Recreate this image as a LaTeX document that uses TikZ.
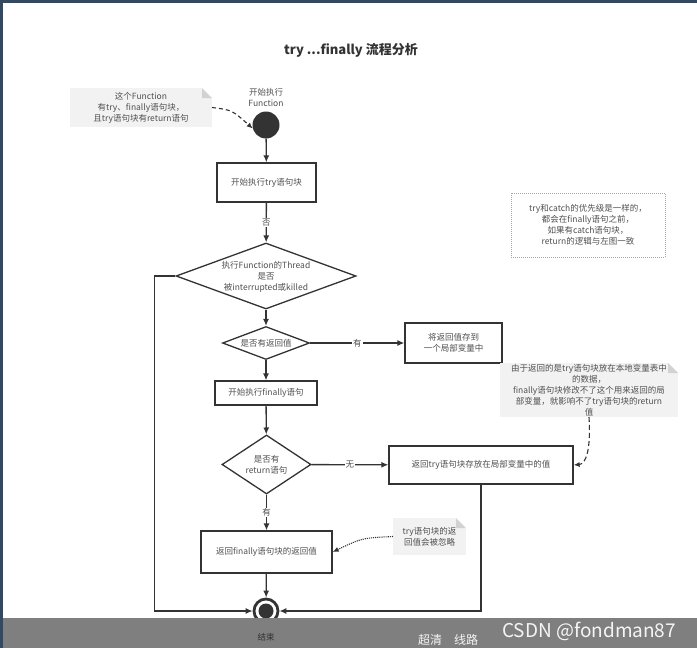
\documentclass[tikz,border=0pt]{standalone}
\usepackage{fontspec}
\setmainfont{Noto Sans CJK SC}
\newfontfamily\wmfont{Noto Sans CJK SC}
\usetikzlibrary{arrows.meta,shapes.geometric,calc}
\definecolor{lc}{HTML}{333333}
\definecolor{txt}{HTML}{505050}
\definecolor{notegray}{HTML}{F2F2F2}
\definecolor{foldgray}{HTML}{D2D2D2}
\definecolor{barcol}{HTML}{7F7F7F}
\definecolor{bordercol}{HTML}{34495E}
\newcommand\dgfs{\fontsize{8.5}{11}\selectfont}
\newcommand\notefold[1]{%
  \fill[white] ($(#1.north east)+(-10,0)$) -- (#1.north east) -- ($(#1.north east)+(0,10)$) -- cycle;
  \fill[foldgray] ($(#1.north east)+(-10,0)$) -- ($(#1.north east)+(-10,10)$) -- ($(#1.north east)+(0,10)$) -- cycle;}
\begin{document}
\begin{tikzpicture}[x=1pt,y=-1pt,
  line/.style={draw=lc, line width=1.3pt},
  arr/.style={line, -{Latex[length=7pt,width=6pt]}},
  box/.style={draw=lc, line width=1.3pt, fill=white, inner sep=0pt, align=center, font=\dgfs, text=txt},
  dia/.style={diamond, draw=lc, line width=1.3pt, fill=white, inner sep=0pt},
  diatext/.style={align=center, font=\dgfs, text=txt, inner sep=0pt},
  lbl/.style={font=\dgfs, text=txt, fill=white, inner sep=1pt},
  note/.style={fill=notegray, inner sep=0pt, outer sep=0pt, align=center, font=\dgfs, text=txt},
  notearr/.style={draw=lc, line width=1.1pt, -{Latex[length=6pt,width=5pt]}},
]
\useasboundingbox (0,0) rectangle (697,648);
\fill[white] (0,0) rectangle (697,648);

% title
\node[font=\fontsize{13}{15}\selectfont\bfseries, text=lc] (title) at (351,50) {try ...finally 流程分析};

% start
\node[font=\dgfs, text=txt, align=center, inner sep=0pt] (startlbl) at (266,97) {开始执行\\Function};
\node[circle, fill=lc, minimum size=27pt, inner sep=0pt] (start) at (266,125) {};

% note 1
\node[note, minimum width=142pt, minimum height=39pt] (n1) at (141,107.5) {这个Function\\有try、finally语句块，\\且try语句块有return语句};
\notefold{n1}
\draw[notearr, dash pattern=on 4pt off 3pt] (n1.east) .. controls (232,110) .. (start.195);

% boxes and diamonds
\node[box, minimum width=99pt, minimum height=39pt] (b1) at (266.5,182.5) {开始执行try语句块};
\node[dia, minimum width=180pt, minimum height=66pt] (d1) at (266,276) {};
\node[diatext] (d1t) at (266,277) {执行Function的Thread\\是否\\被interrupted或killed};
\node[dia, minimum width=87pt, minimum height=33pt] (d2) at (266,343) {};
\node[diatext] (d2t) at (266,343) {是否有返回值};
\node[box, minimum width=97pt, minimum height=40pt] (b2) at (453.5,343) {将返回值存到\\一个局部变量中};
\node[box, minimum width=102pt, minimum height=24pt] (b3) at (266,393) {开始执行finally语句};
\node[dia, minimum width=89pt, minimum height=59pt] (d3) at (266.5,464.5) {};
\node[diatext] (d3t) at (266.5,465) {是否有\\return语句};
\node[box, minimum width=184pt, minimum height=38pt] (b4) at (481,465) {返回try语句块存放在局部变量中的值};
\node[box, minimum width=131pt, minimum height=42pt] (b5) at (266.5,552) {返回finally语句块的返回值};

% end
\node[circle, draw=lc, line width=2.8pt, minimum size=24pt, inner sep=0pt] (endc) at (266,611) {};
\fill[lc] (endc.center) circle (7.5);

% connectors
\draw[arr] (start) -- (b1);
\draw[arr] (b1) -- node[lbl] {否} (d1);
\draw[arr] (d1) -- (d2);
\draw[arr] (d2) -- node[lbl] {有} (b2);
\draw[arr] (d2) -- (b3);
\draw[arr] (b3) -- (d3);
\draw[arr] (d3) -- node[lbl] {无} (b4);
\draw[arr] (d3) -- node[lbl] {有} (b5);
\draw[arr] (b5) -- (endc);
\draw[arr] (d1.west) -- ++(-21,0) |- (endc.west);
\draw[arr] (b4.south) |- (endc.east);

% note 2
\node[draw=gray!70, densely dotted, line width=1pt, fill=white, inner sep=0pt, align=center, font=\dgfs, text=txt, minimum width=154pt, minimum height=64pt] (n2) at (588,225) {try和catch的优先级是一样的，\\都会在finally语句之前，\\如果有catch语句块，\\return的逻辑与左图一致};

% note 3
\node[note, minimum width=178pt, minimum height=54pt] (n3) at (589,390) {由于返回的是try语句块放在本地变量表中\\的数据，\\finally语句块修改不了这个用来返回的局\\部变量，就影响不了try语句块的return\\值};
\notefold{n3}
\draw[notearr, dash pattern=on 5pt off 3pt] (n3.south) .. controls (591,450) and (586,464) .. (b4.east);

% note 4
\node[note, minimum width=73pt, minimum height=37pt] (n4) at (429.5,536.5) {try语句块的返\\回值会被忽略};
\notefold{n4}
\draw[notearr, densely dotted] (n4.west) .. controls (362,538) .. (b5.east);

% screen chrome
\fill[barcol] (0,618) rectangle (697,648);
\fill[bordercol] (0,0) rectangle (697,2.5);
\fill[bordercol] (0,0) rectangle (2.5,648);
\node[font=\dgfs, text=lc, inner sep=0pt] (endlbl) at (266,637) {结束};
\node[anchor=base west, font=\wmfont\fontsize{19}{21}\selectfont, text=white!92!gray, inner sep=0pt] (wm) at (502,637) {CSDN @fondman87};
\node[anchor=south west, font=\wmfont\fontsize{12}{14}\selectfont, text=white!92!gray, inner sep=0pt] (ctl) at (418,646) {超清\quad 线路};
\end{tikzpicture}
\end{document}
